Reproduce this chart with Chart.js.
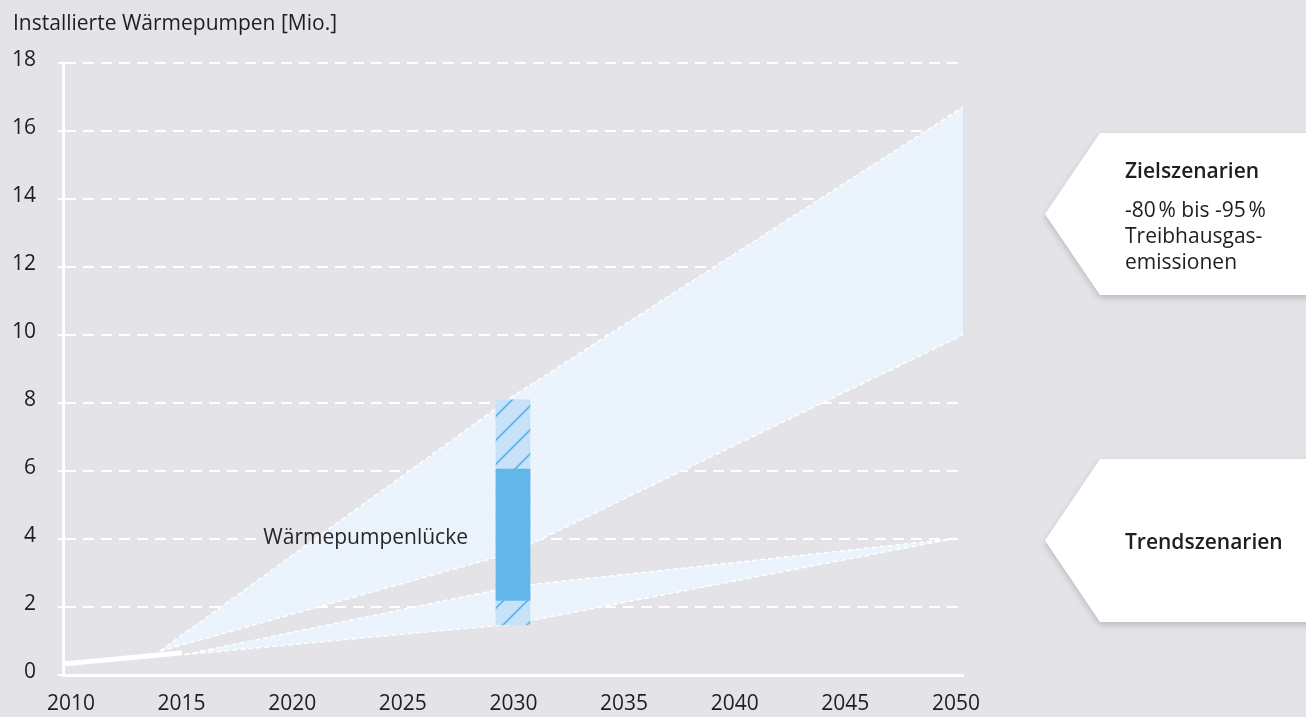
<!DOCTYPE html>
<html>
<head>
<meta charset="utf-8">
<script src="https://cdn.jsdelivr.net/npm/chart.js"></script>
<style>
  body { margin: 0; background: #e3e3e8; font-family: "Open Sans", sans-serif; color: #1e1e1e; }
  #wrap { position: relative; width: 1306px; height: 717px; overflow: hidden; }
  #title { position: absolute; left: 13px; top: 11px; font-size: 21px; line-height: 22px; white-space: nowrap; }
  .tag { position: absolute; left: 1045px; width: 290px; filter: drop-shadow(0 3px 3px rgba(0,0,0,0.18)); }
  .tag .shape { height: 100%; background: #fff; clip-path: polygon(0 50%, 55px 0, 100% 0, 100% 100%, 55px 100%); box-sizing: border-box; padding-left: 80px; font-size: 21px; line-height: 26px; }
  .tag .head { font-weight: 600; }
</style>
</head>
<body>
<div id="wrap">
  <canvas id="chart" width="1306" height="717"></canvas>
  <div id="title">Installierte Wärmepumpen [Mio.]</div>
  <div class="tag" style="top:133px;height:162px">
    <div class="shape" style="padding-top:24px">
      <div class="head" style="margin-bottom:13px">Zielszenarien</div>
      <div>-80&#8239;% bis -95&#8239;%</div>
      <div>Treibhausgas-</div>
      <div>emissionen</div>
    </div>
  </div>
  <div class="tag" style="top:459px;height:163px">
    <div class="shape" style="padding-top:69px">
      <div class="head">Trendszenarien</div>
    </div>
  </div>
</div>
<script>
// values (Mio. heat pumps)
var histYears = [2010, 2015.2];
var histValues = [0.32, 0.65];

var zielYears = [2014.3, 2030, 2050];
var zielHigh = [0.7, 8.2, 16.7];
var zielLow = [0.7, 3.6, 10.0];

var trendYears = [2015.4, 2030, 2049.5];
var trendHigh = [0.6, 2.6, 4.0];
var trendLow = [0.6, 1.5, 4.0];

var gapYear = 2030;
var gapFull = [1.47, 8.09];
var gapCore = [2.19, 6.06];
var gapLabel = "Wärmepumpenlücke";

var yTicks = [0, 2, 4, 6, 8, 10, 12, 14, 16, 18];
var xTicks = [2010, 2015, 2020, 2025, 2030, 2035, 2040, 2045, 2050];

var BG = "#e3e3e8";
var BAND = "#ebf3fc";
var BLUE = "#62b7e8";
var FONT = "Open Sans";

function points(xs, ys) {
    return xs.map(function(x, i) { return {x: x, y: ys[i]}; });
}

function hatchPattern() {
    var c = document.createElement("canvas");
    c.width = 24; c.height = 24;
    var g = c.getContext("2d");
    g.fillStyle = "#c9e1f6";
    g.fillRect(0, 0, 24, 24);
    g.strokeStyle = "#5cb5e8";
    g.lineWidth = 1.6;
    g.beginPath();
    g.moveTo(-2, 26); g.lineTo(26, -2);
    g.moveTo(-2, 2); g.lineTo(2, -2);
    g.moveTo(22, 26); g.lineTo(26, 22);
    g.stroke();
    return g.createPattern(c, "repeat");
}

var edge = {
    type: "line", xAxisID: "x", borderColor: "#ffffff", borderWidth: 1.5,
    borderDash: [5, 3], pointRadius: 0, tension: 0, backgroundColor: BAND
};

// label for the gap, with a small mask so the grid line stops before the text
var gapText = {
    id: "gapText",
    beforeDatasetsDraw: function(chart) {
        var ctx = chart.ctx;
        var x = chart.scales.x.getPixelForValue(gapYear) - 45;
        var y = chart.scales.y.getPixelForValue(4);
        ctx.save();
        ctx.font = "21px '" + FONT + "'";
        var w = ctx.measureText(gapLabel).width;
        ctx.fillStyle = BG;
        ctx.fillRect(x - w - 6, y - 10, w + 8, 20);
        ctx.restore();
    },
    afterDatasetsDraw: function(chart) {
        var ctx = chart.ctx;
        var x = chart.scales.x.getPixelForValue(gapYear) - 45;
        var y = chart.scales.y.getPixelForValue(4);
        ctx.save();
        ctx.font = "21px '" + FONT + "'";
        ctx.fillStyle = "#262626";
        ctx.textAlign = "right";
        ctx.textBaseline = "alphabetic";
        ctx.fillText(gapLabel, x, y + 5);
        ctx.restore();
    }
};

var ctx = document.getElementById("chart").getContext("2d");
var chart = new Chart(ctx, {
    type: "line",
    data: {
        datasets: [
            {type: "bar", xAxisID: "x", data: [{x: gapYear, y: gapCore}], backgroundColor: BLUE,
             barThickness: 34, grouped: false, borderWidth: 0},
            {type: "bar", xAxisID: "x", data: [{x: gapYear, y: gapFull}], backgroundColor: hatchPattern(),
             barThickness: 34, grouped: false, borderWidth: 0},
            {type: "line", xAxisID: "x", data: points(histYears, histValues), borderColor: "#ffffff",
             borderWidth: 5, borderCapStyle: "round", pointRadius: 0, fill: false},
            Object.assign({}, edge, {data: points(zielYears, zielHigh), fill: false}),
            Object.assign({}, edge, {data: points(zielYears, zielLow), fill: "-1"}),
            Object.assign({}, edge, {data: [{x: zielYears[2], y: zielLow[2]}, {x: zielYears[2], y: zielHigh[2]}], fill: false}),
            Object.assign({}, edge, {data: points(trendYears, trendHigh), fill: false}),
            Object.assign({}, edge, {data: points(trendYears, trendLow), fill: "-1"})
        ]
    },
    options: {
        responsive: false,
        animation: false,
        events: [],
        layout: {padding: {left: 13, right: 343, top: 63, bottom: 0}},
        plugins: {legend: {display: false}, tooltip: {enabled: false}, title: {display: false}},
        scales: {
            x: {type: "linear", min: 2010, max: 2050, display: false, offset: false, grid: {offset: false}},
            xl: {
                type: "linear", position: "bottom", min: 2009.64, max: 2050.32, offset: false,
                afterBuildTicks: function(s) { s.ticks = xTicks.map(function(v) { return {value: v}; }); },
                afterFit: function(s) { s.height = 42; },
                grid: {display: false, drawTicks: false},
                border: {display: true, color: "#ffffff", width: 3},
                ticks: {
                    color: "#1e1e1e", font: {family: FONT, size: 21}, padding: 16,
                    maxRotation: 0, autoSkip: false,
                    callback: function(v) { return String(v); }
                }
            },
            y: {
                type: "linear", min: 0, max: 18,
                afterBuildTicks: function(s) { s.ticks = yTicks.map(function(v) { return {value: v}; }); },
                afterFit: function(s) { s.width = 50; },
                grid: {color: "#ffffff", lineWidth: 2, drawTicks: true, tickLength: 5, tickColor: "#ffffff", tickWidth: 2},
                border: {display: true, color: "#ffffff", width: 3, dash: [11, 7]},
                ticks: {color: "#1e1e1e", font: {family: FONT, size: 21}, padding: 22, labelOffset: -3}
            }
        }
    },
    plugins: [gapText]
});
</script>
</body>
</html>
